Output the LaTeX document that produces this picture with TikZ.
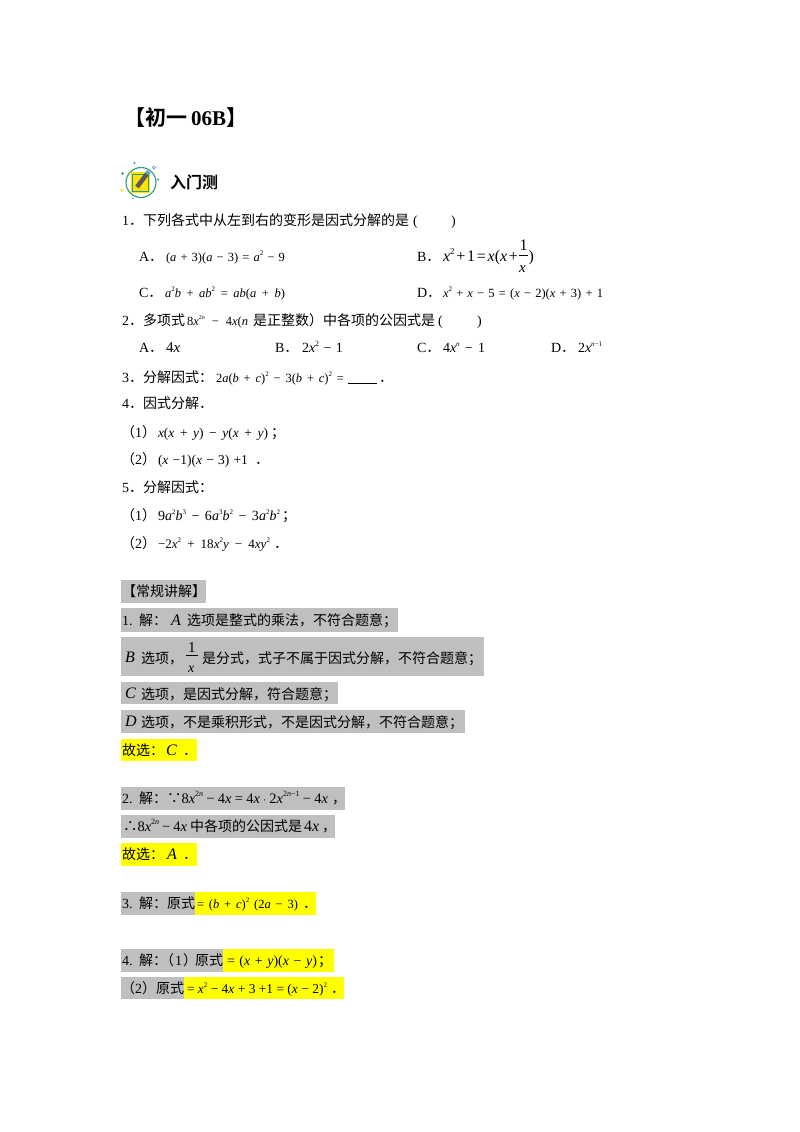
\documentclass[tikz,border=0pt]{standalone}
\usepackage{fontspec}
\setmainfont{Liberation Serif}
\newfontfamily\cjk{Noto Sans CJK SC}
\newfontfamily\cjkb{Noto Sans CJK SC Bold}
\newfontfamily\sym{DejaVu Sans}
\definecolor{hlgrey}{HTML}{BFBFBF}
\definecolor{hlyellow}{HTML}{FFFF00}
\definecolor{ringteal}{HTML}{2E9A7C}
\newcount\nc
\newcommand\T[4][14]{\global\advance\nc by 1 \node[txt] (t\the\nc) at (#2,#3) {\fontsize{#1}{#1}\selectfont #4};}
\newcommand\F[5][11.5]{\global\advance\nc by 1 \node[txt] (t\the\nc) at (#2,#3) {\fontsize{#1}{#1}\selectfont\hbox to #4pt{\spaceskip=0pt plus 1fil\xspaceskip=0pt plus 1fil #5}};}
\newcommand\vv[1]{\textit{#1}}
\newcommand\Sp[2][7]{\raisebox{.42em}{\fontsize{#1}{#1}\selectfont #2}}
\newcommand\HL[5]{\fill[#1] (#2,#3) rectangle (#4,#5);}
\newcommand\dd{{\cjk ．}}
\tikzset{txt/.style={anchor=base west,inner sep=0pt,outer sep=0pt,text=black}}
\begin{document}
\begin{tikzpicture}[x=1pt,y=-1pt]
\useasboundingbox (0,0) rectangle (800,1132);
\fill[white] (0,0) rectangle (800,1132);
% title
\T[21]{124}{125}{{\cjkb 【初一}\hspace{4pt}\textbf{06B}{\cjkb 】}}
% icon
\fill[ringteal] (134.5,163) circle (1.1);
\fill[ringteal] (122.5,173.5) circle (1.3);
\fill[ringteal] (158,179.5) circle (1.1);
\draw[cyan!40!gray,line width=.6] (154,167.5) circle (1.6);
\draw[yellow!70!orange,line width=.5] (122,190) circle (1.4);
\fill[cyan!50!gray] (133,198.5) circle (.8);
\draw[ringteal,line width=1.1] (141,182.5) circle (15);
\fill[yellow!85!orange] (131,172) rectangle (150,193);
\draw[ringteal,line width=1] (132,174) rectangle (148,191);
\draw[gray!70!black,line width=4.5] (137,187) -- (147,174);
\draw[cyan!60!gray,line width=4.5] (147,174) -- (149,171.5);
\T[16]{170}{188}{{\cjkb 入门测}}
% Q1
\T{122}{225}{1\dd}
\T{143}{225}{{\cjk 下列各式中从左到右的变形是因式分解的是}}
\T{413}{225}{(} \T{451}{225}{)}
\T{139}{261}{A\dd}
\F[12.5]{166}{261}{119}{(\vv{a} + 3)(\vv{a} − 3) = \vv{a}\Sp{2} − 9}
\T{417}{261}{B\dd}
\F[16]{443}{261}{75}{\vv{x}\Sp[9]{2} + 1 = \vv{x}(\vv{x} +}
\T[16]{519.5}{250}{1}
\draw[line width=.6] (519,255.5) -- (528,255.5);
\T[15]{519}{272}{\vv{x}}
\T[16]{528.5}{261}{)}
\T{139}{297}{C\dd}
\F[12.5]{165}{297}{120}{\vv{a}\Sp{2}\vv{b} + \vv{ab}\Sp{2} = \vv{ab}(\vv{a} + \vv{b})}
\T{417}{297}{D\dd}
\F[12.5]{443}{297}{160}{\vv{x}\Sp{2} + \vv{x} − 5 = (\vv{x} − 2)(\vv{x} + 3) + 1}
% Q2
\T{122}{325}{2\dd}
\T{143}{325}{{\cjk 多项式}}
\F[12.5]{187}{325}{61}{8\vv{x}\Sp[6]{2\vv{n}} − 4\vv{x}(\vv{n}}
\T{253}{325}{{\cjk 是正整数）中各项的公因式是}}
\T{438}{325}{(} \T{477}{325}{)}
\T{139}{352}{A\dd}
\T[15]{166}{352}{4\vv{x}}
\T{275}{352}{B\dd}
\F[14]{302}{352}{41}{2\vv{x}\Sp[8]{2} − 1}
\T{417}{352}{C\dd}
\F[14]{443}{352}{42}{4\vv{x}\Sp[7]{\vv{n}} − 1}
\T{551}{352}{D\dd}
\F[14]{578}{352}{25}{2\vv{x}\Sp[7]{\vv{n}−1}}
% Q3
\T{122}{382}{3\dd}
\T{143}{382}{{\cjk 分解因式：}}
\F[12.5]{216}{382}{128}{2\vv{a}(\vv{b} + \vv{c})\Sp{2} − 3(\vv{b} + \vv{c})\Sp{2} =}
\draw[line width=.8] (348,383) -- (377,383);
\T{379}{382}{\dd}
% Q4
\T{122}{408}{4\dd}
\T{143}{408}{{\cjk 因式分解}}
\T{199}{408}{\dd}
\T{121}{437}{{\cjk （}1{\cjk ）}}
\F[13.5]{158}{437}{110}{\vv{x}(\vv{x} + \vv{y}) − \vv{y}(\vv{x} + \vv{y})}
\T{271}{437}{{\cjk ；}}
\T{121}{464}{{\cjk （}2{\cjk ）}}
\F[13.5]{158}{464}{90}{(\vv{x} −1)(\vv{x} − 3) +1}
\T{255}{464}{\dd}
% Q5
\T{122}{492}{5\dd}
\T{143}{492}{{\cjk 分解因式：}}
\T{121}{520}{{\cjk （}1{\cjk ）}}
\F[14]{158}{520}{122}{9\vv{a}\Sp{2}\vv{b}\Sp{3} − 6\vv{a}\Sp{3}\vv{b}\Sp{2} − 3\vv{a}\Sp{2}\vv{b}\Sp{2}}
\T{282}{520}{{\cjk ；}}
\T{121}{548}{{\cjk （}2{\cjk ）}}
\F[13]{158}{548}{112}{−2\vv{x}\Sp{2} + 18\vv{x}\Sp{2}\vv{y} − 4\vv{x}\vv{y}\Sp{2}}
\T{274}{548}{\dd}
% highlights
\HL{hlgrey}{121}{580}{206}{603}
\HL{hlgrey}{121}{608}{398}{632}
\HL{hlgrey}{121}{637}{484}{676}
\HL{hlgrey}{121}{682}{338}{704}
\HL{hlgrey}{121}{710}{465}{733}
\HL{hlyellow}{121}{739}{197}{761}
\HL{hlgrey}{121}{787}{345}{810}
\HL{hlgrey}{121}{815}{335}{838}
\HL{hlyellow}{121}{843}{197}{866}
\HL{hlgrey}{121}{892}{195}{915}
\HL{hlyellow}{195}{892}{316}{915}
\HL{hlgrey}{121}{949}{223}{972}
\HL{hlyellow}{223}{949}{334}{972}
\HL{hlgrey}{121}{977}{184}{999}
\HL{hlyellow}{184}{977}{344}{999}
% answers
\T{122}{596}{{\cjk 【常规讲解】}}
\T{122}{625}{1.} \T{139}{625}{{\cjk 解：}}
\T[16]{171}{625}{\vv{A}}
\T{187}{625}{{\cjk 选项是整式的乘法，不符合题意；}}
\T[16]{125}{662}{\vv{B}}
\T{141}{663}{{\cjk 选项，}}
\T[15]{188}{652}{1}
\draw[line width=.6] (186,655.5) -- (198,655.5);
\T[14]{188}{672}{\vv{x}}
\T{202}{663}{{\cjk 是分式，式子不属于因式分解，不符合题意；}}
\T[16]{125}{698}{\vv{C}}
\T{141}{699}{{\cjk 选项，是因式分解，符合题意；}}
\T[16]{125}{726}{\vv{D}}
\T{141}{727}{{\cjk 选项，不是乘积形式，不是因式分解，不符合题意；}}
\T{122}{755}{{\cjk 故选：}}
\T[16]{166}{755}{\vv{C}}
\T{183}{755}{\dd}
\T{122}{803}{2.} \T{139}{803}{{\cjk 解：}}
\F[14.5]{167}{803}{161}{{\cjk ∵}8\vv{x}\Sp[8]{2\vv{n}} − 4\vv{x} = 4\vv{x} {\sym\fontsize{9}{9}\selectfont ⋅} 2\vv{x}\Sp[8]{2\vv{n}−1} − 4\vv{x}}
\T{332}{803}{{\cjk ，}}
\F[14.5]{123}{831}{64}{{\cjk ∴}8\vv{x}\Sp[8]{2\vv{n}} − 4\vv{x}}
\T{190}{831}{{\cjk 中各项的公因式是}}
\T[16]{304}{831}{4\vv{x}}
\T{322}{831}{{\cjk ，}}
\T{122}{859}{{\cjk 故选：}}
\T[16]{167}{859}{\vv{A}}
\T{183}{859}{\dd}
\T{122}{908}{3.} \T{139}{908}{{\cjk 解：}}
\T{167}{908}{{\cjk 原式}}
\F[12.5]{197}{908}{101}{= (\vv{b} + \vv{c})\Sp{2} (2\vv{a} − 3)}
\T{303}{908}{\dd}
\T{122}{965}{4.} \T{139}{965}{{\cjk 解：}}
\T{160}{965}{{\cjk （}}
\T{175}{965}{1}
\T{183}{965}{{\cjk ）}}
\T{195}{965}{{\cjk 原式}}
\F[14]{227}{965}{90}{= (\vv{x} + \vv{y})(\vv{x} − \vv{y})}
\T{318}{965}{{\cjk ；}}
\T{121}{993}{{\cjk （}2{\cjk ）}}
\T{156}{993}{{\cjk 原式}}
\F[13.5]{187}{993}{140}{= \vv{x}\Sp{2} − 4\vv{x} + 3 +1 = (\vv{x} − 2)\Sp{2}}
\T{331}{993}{\dd}
\end{tikzpicture}
\end{document}
